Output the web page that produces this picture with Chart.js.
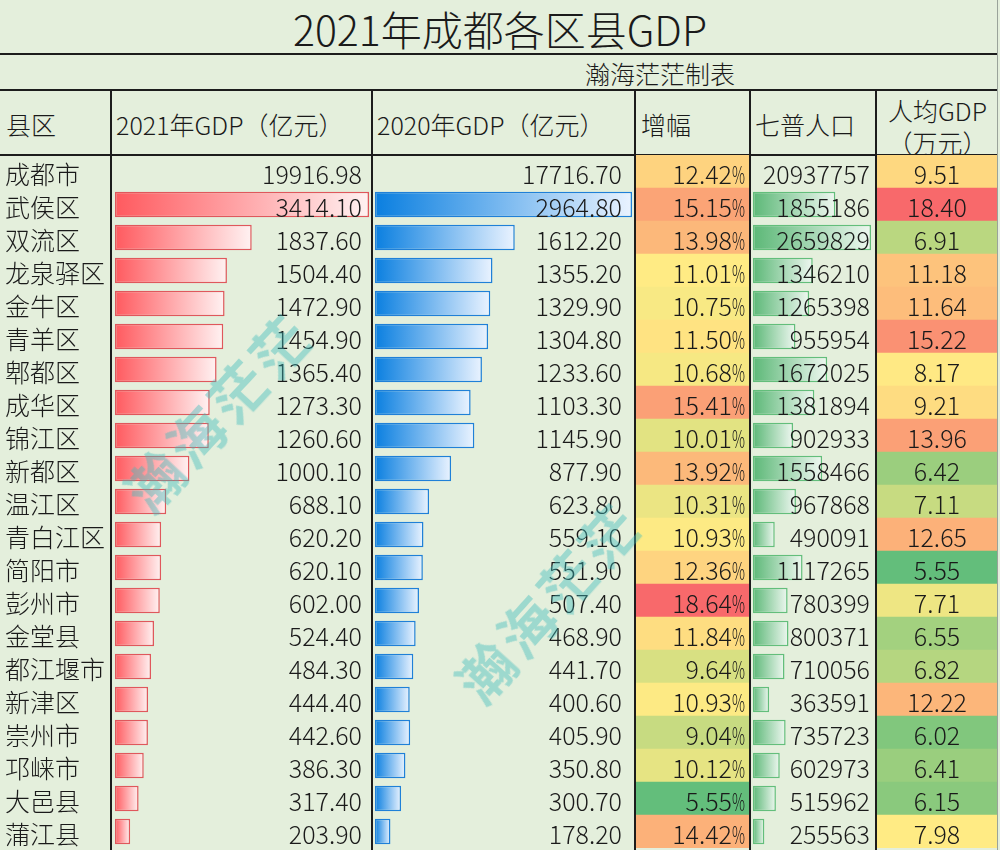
<!DOCTYPE html>
<html>
<head>
<meta charset="utf-8">
<title>2021年成都各区县GDP</title>
<script src="https://cdn.jsdelivr.net/npm/chart.js@4.4.1/dist/chart.umd.min.js"></script>
<style>
  body { margin: 0; background: #e4efdc; font-family: "Noto Sans CJK SC", sans-serif; font-weight: 300; color: #1a1a1a; }
  #sheet { position: relative; width: 1000px; height: 850px; overflow: hidden; }
  .line { position: absolute; background: #1c1c1c; }
  .txt { position: absolute; display: flex; align-items: center; white-space: nowrap; font-size: 25px; }
  .col { position: absolute; top: 155px; height: 693px; }
  .wm { position: absolute; font-size: 56px; font-weight: bold; color: rgba(60, 185, 185, 0.42);
        white-space: nowrap; letter-spacing: 5px; transform-origin: center; z-index: 5; }
</style>
</head>
<body>
<div id="sheet">
  <!-- 标题和表头 -->
  <div class="txt" style="left:0;top:0;width:1000px;height:56px;justify-content:center;font-size:41px">2021年成都各区县GDP</div>
  <div class="txt" style="left:560px;top:55px;width:200px;height:36px;justify-content:center;font-size:25px">瀚海茫茫制表</div>
  <div class="txt" style="left:6px;top:92px;height:64px">县区</div>
  <div class="txt" style="left:116px;top:92px;height:64px">2021年GDP（亿元）</div>
  <div class="txt" style="left:377px;top:92px;height:64px">2020年GDP（亿元）</div>
  <div class="txt" style="left:641px;top:92px;height:64px">增幅</div>
  <div class="txt" style="left:755px;top:92px;height:64px">七普人口</div>
  <div class="txt" style="left:877px;top:94px;width:121px;height:32px;justify-content:center">人均GDP</div>
  <div class="txt" style="left:877px;top:126px;width:121px;height:32px;justify-content:center">（万元）</div>

  <!-- 表格线 -->
  <div class="line" style="left:0;top:53px;width:998px;height:2px"></div>
  <div class="line" style="left:0;top:89px;width:998px;height:2px"></div>
  <div class="line" style="left:0;top:154px;width:998px;height:2px"></div>
  <div class="line" style="left:110px;top:90px;width:2px;height:760px"></div>
  <div class="line" style="left:371px;top:90px;width:2px;height:760px"></div>
  <div class="line" style="left:634px;top:90px;width:2px;height:760px"></div>
  <div class="line" style="left:749px;top:90px;width:2px;height:760px"></div>
  <div class="line" style="left:875px;top:90px;width:2px;height:760px"></div>
  <div class="line" style="left:997px;top:0;width:1px;height:850px;background:#9aa39a"></div>

  <div class="col" style="left:0;width:110px"><canvas id="c-name"></canvas></div>
  <div class="col" style="left:112px;width:259px"><canvas id="c-2021"></canvas></div>
  <div class="col" style="left:373px;width:261px"><canvas id="c-2020"></canvas></div>
  <div class="col" style="left:636px;width:113px"><canvas id="c-growth"></canvas></div>
  <div class="col" style="left:751px;width:124px"><canvas id="c-pop"></canvas></div>
  <div class="col" style="left:877px;width:120px"><canvas id="c-per"></canvas></div>

  <div class="wm" style="left:95px;top:370px;transform:rotate(-47deg)">瀚海茫茫</div>
  <div class="wm" style="left:425px;top:560px;transform:rotate(-48deg)">瀚海茫茫</div>
</div>

<script>
const districts = ['成都市', '武侯区', '双流区', '龙泉驿区', '金牛区', '青羊区', '郫都区', '成华区', '锦江区', '新都区',
  '温江区', '青白江区', '简阳市', '彭州市', '金堂县', '都江堰市', '新津区', '崇州市', '邛崃市', '大邑县', '蒲江县']
const gdp2021 = [19916.98, 3414.10, 1837.60, 1504.40, 1472.90, 1454.90, 1365.40, 1273.30, 1260.60, 1000.10,
  688.10, 620.20, 620.10, 602.00, 524.40, 484.30, 444.40, 442.60, 386.30, 317.40, 203.90]
const gdp2020 = [17716.70, 2964.80, 1612.20, 1355.20, 1329.90, 1304.80, 1233.60, 1103.30, 1145.90, 877.90,
  623.80, 559.10, 551.90, 507.40, 468.90, 441.70, 400.60, 405.90, 350.80, 300.70, 178.20]
const growth = [12.42, 15.15, 13.98, 11.01, 10.75, 11.50, 10.68, 15.41, 10.01, 13.92,
  10.31, 10.93, 12.36, 18.64, 11.84, 9.64, 10.93, 9.04, 10.12, 5.55, 14.42]
const population = [20937757, 1855186, 2659829, 1346210, 1265398, 955954, 1672025, 1381894, 902933, 1558466,
  967868, 490091, 1117265, 780399, 800371, 710056, 363591, 735723, 602973, 515962, 255563]
const perCapita = [9.51, 18.40, 6.91, 11.18, 11.64, 15.22, 8.17, 9.21, 13.96, 6.42,
  7.11, 12.65, 5.55, 7.71, 6.55, 6.82, 12.22, 6.02, 6.41, 6.15, 7.98]

const FONT = '300 25px "Noto Sans CJK SC"'

// 单元格文字 (画在柱子上面)
const cellText = {
  id: 'cellText',
  afterDatasetsDraw(chart, args, opts) {
    if (!opts.texts) return
    const ctx = chart.ctx
    const yScale = chart.scales.y
    ctx.save()
    ctx.font = FONT
    ctx.fillStyle = '#1a1a1a'
    ctx.textBaseline = 'middle'
    for (let i = 0; i < opts.texts.length; i++) {
      const y = yScale.getPixelForValue(i) + 3
      let x = opts.x
      if (opts.suffix) {
        const w = ctx.measureText(opts.suffix).width
        const k = 13 / w
        ctx.save()
        ctx.translate(x - 13, y)
        ctx.scale(k, 1)
        ctx.textAlign = 'left'
        ctx.fillText(opts.suffix, 0, 0)
        ctx.restore()
        x -= 13
      }
      ctx.textAlign = opts.align
      ctx.fillText(opts.texts[i], x, y)
    }
    ctx.restore()
  }
}

function baseOptions(padding, xScale, textOpts) {
  return {
    indexAxis: 'y',
    responsive: true,
    maintainAspectRatio: false,
    animation: false,
    layout: { padding: padding },
    scales: {
      x: Object.assign({ display: false }, xScale),
      y: { display: false }
    },
    plugins: {
      legend: { display: false },
      tooltip: { enabled: false },
      cellText: textOpts
    }
  }
}

// 数据条: 左边实色, 右边渐变到白色
function gradientFor(ctx, c) {
  const chart = ctx.chart
  const area = chart.chartArea
  if (!area || ctx.raw == null) return c.solid
  const x1 = chart.scales.x.getPixelForValue(ctx.raw)
  const g = chart.ctx.createLinearGradient(area.left, 0, x1, 0)
  g.addColorStop(0, c.solid)
  g.addColorStop(1, c.light)
  return g
}

function barColumn(id, values, texts, color, padding, textX) {
  // 成都市是合计, 不画数据条
  const bars = values.map((v, i) => i === 0 ? null : v)
  const maxVal = Math.max(...values.slice(1))
  return new Chart(document.getElementById(id), {
    type: 'bar',
    data: {
      labels: districts,
      datasets: [{
        data: bars,
        backgroundColor: ctx => gradientFor(ctx, color),
        borderColor: color.edge,
        borderWidth: 1.5,
        borderSkipped: false,
        barPercentage: 0.78,
        categoryPercentage: 1
      }]
    },
    options: baseOptions(padding, { min: 0, max: maxVal }, { texts: texts, align: 'right', x: textX }),
    plugins: [cellText]
  })
}

// Excel 三色刻度: 最小值绿, 中位数黄, 最大值红
function hexRgb(h) {
  return [parseInt(h.substr(1, 2), 16), parseInt(h.substr(3, 2), 16), parseInt(h.substr(5, 2), 16)]
}
function mix(a, b, t) {
  const p = hexRgb(a), q = hexRgb(b)
  return 'rgb(' + p.map((v, k) => Math.round(v + (q[k] - v) * t)).join(',') + ')'
}
function scaleColors(values) {
  const sorted = [...values].sort((a, b) => a - b)
  const lo = sorted[0], hi = sorted[sorted.length - 1]
  const mid = sorted[Math.floor(sorted.length / 2)]
  return values.map(v => v <= mid
    ? mix('#63BE7B', '#FFEB84', (v - lo) / (mid - lo))
    : mix('#FFEB84', '#F8696B', (v - mid) / (hi - mid)))
}

function heatColumn(id, values, textOpts) {
  const colors = scaleColors(values)
  return new Chart(document.getElementById(id), {
    type: 'bar',
    data: {
      labels: districts,
      datasets: [{
        data: values.map(() => [0, 1]),
        backgroundColor: colors,
        borderWidth: 0,
        barPercentage: 1,
        categoryPercentage: 1
      }]
    },
    options: baseOptions(0, { min: 0, max: 1 }, textOpts),
    plugins: [cellText]
  })
}

const red = { solid: '#ff5a5f', light: '#fff2f2', edge: '#e0575c' }
const blue = { solid: '#0a7fe0', light: '#eaf3ff', edge: '#1f80d8' }
const green = { solid: '#5cb877', light: '#eef7f0', edge: '#63be7b' }

new Chart(document.getElementById('c-name'), {
  type: 'bar',
  data: { labels: districts, datasets: [{ data: [] }] },
  options: baseOptions(0, {}, { texts: districts, align: 'left', x: 5 }),
  plugins: [cellText]
})

barColumn('c-2021', gdp2021, gdp2021.map(v => v.toFixed(2)), red, { left: 3, right: 2 }, 250)
barColumn('c-2020', gdp2020, gdp2020.map(v => v.toFixed(2)), blue, { left: 2, right: 2 }, 249)
heatColumn('c-growth', growth, { texts: growth.map(v => v.toFixed(2)), align: 'right', x: 109, suffix: '%' })
barColumn('c-pop', population, population.map(v => String(v)), green, { left: 2, right: 4 }, 119)
heatColumn('c-per', perCapita, { texts: perCapita.map(v => v.toFixed(2)), align: 'center', x: 60 })
</script>
</body>
</html>
